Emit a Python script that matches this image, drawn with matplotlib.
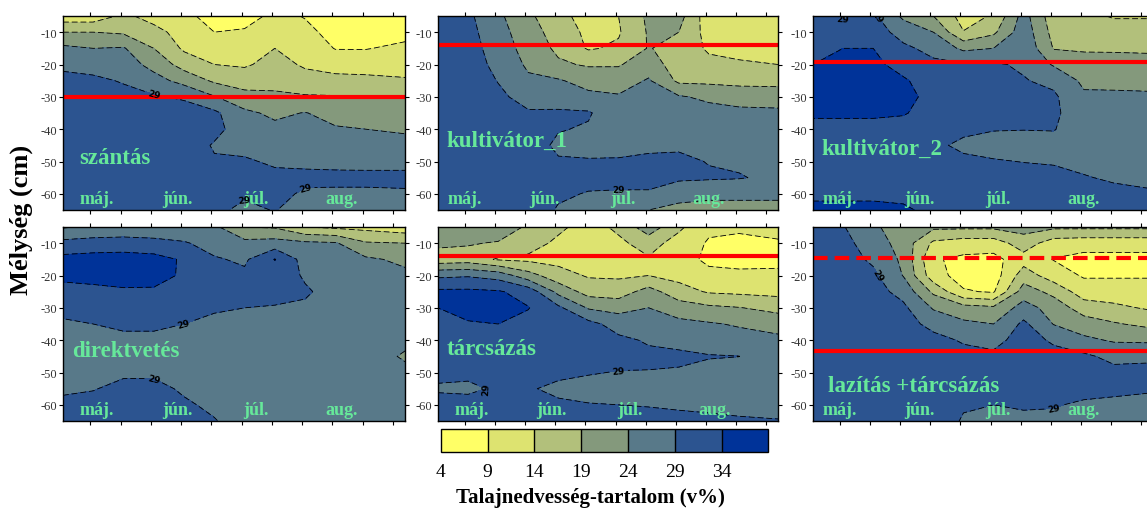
import matplotlib
matplotlib.use("Agg")
import matplotlib.pyplot as plt
import numpy as np

plt.rcParams["font.family"] = ["Liberation Serif", "DejaVu Serif"]
plt.rcParams["axes.unicode_minus"] = False
plt.rcParams["lines.dashed_pattern"] = [7, 3.5]

W, H = 1147, 510

LEVELS = [4, 9, 14, 19, 24, 29, 34, 39]
FILLS = ["#FFFF66", "#DDE370", "#B2C07B", "#84997C", "#587989", "#2C5490", "#003399"]
GREEN = "#66E89A"

# mérési mélységek (cm) és időpontok (napok a szezonban)
depth = [-5, -10, -15, -20, -25, -30, -35, -40, -45, -50, -55, -60, -65]
days = [0, 10, 20, 30, 40, 50, 60, 70, 80, 90, 100, 113]

months = ["máj.", "jún.", "júl.", "aug."]
month_pos_a = [11.3, 37.8, 63.8, 92]
month_pos_b = [9, 35.3, 61.6, 90]

# talajnedvesség (v%), egy lista = egy időpont, felülről lefelé
szantas = [
    [11, 19, 25.1, 27.9, 30.5, 31.5, 32, 32.5, 32.5, 32, 32, 32, 32],
    [11, 19, 24, 27.1, 30, 31, 32, 32.5, 32.5, 32.5, 32, 32, 32],
    [15, 18.3, 24.4, 26.5, 28.6, 30.5, 31.5, 32, 32.5, 32.5, 32, 32, 32],
    [12.2, 15.6, 19, 22.3, 25.9, 29.5, 31, 32, 32, 32, 32, 32, 32],
    [10, 12, 13.2, 17, 22.3, 28.4, 31, 32, 32, 32, 32, 32, 32],
    [7.5, 9, 11.5, 14, 18.2, 24.3, 30, 30.5, 28.5, 29.5, 30.5, 30.5, 30],
    [6.5, 9.7, 11.6, 13.4, 16.7, 20.7, 25, 26.3, 27.8, 29.5, 30.5, 29.6, 28],
    [10.5, 12.5, 14, 15.6, 17.8, 19.7, 23, 25.2, 26.8, 28.4, 30, 30, 29.2],
    [8.7, 10.3, 11.8, 13.4, 15.7, 19.5, 24.2, 25.6, 27, 28.3, 29.8, 28.5, 27],
    [6, 7.3, 8.8, 12, 15.5, 19.3, 22.1, 24.5, 26.2, 27.9, 30, 28.3, 27],
    [6, 7.2, 8.8, 11.6, 15.4, 19.2, 21.6, 24, 25.9, 27.8, 30, 28.3, 27],
    [6, 7.7, 9.9, 12, 14.5, 19.2, 21.3, 23.4, 25.5, 27.8, 30, 28.5, 27],
]

kultivator_1 = [
    [30.5, 31, 31.5, 32, 32, 32, 32, 32, 32, 32, 32, 32, 32],
    [30, 30.5, 31, 31.5, 32, 32, 32, 32, 32, 32, 32, 32, 32],
    [25, 26, 26.8, 27.6, 28.8, 30, 31, 32, 32, 32, 32, 32, 32],
    [20, 21, 22, 23.2, 24.8, 27.2, 29.5, 31, 31.5, 32, 32, 32, 32],
    [15.5, 17, 18, 19.7, 24.5, 27.3, 29.5, 29.3, 28, 29.5, 30.5, 29.8, 28.5],
    [12, 12.8, 13.5, 18.5, 22, 25.3, 29.5, 28.5, 27, 29.5, 30.5, 28.7, 27.5],
    [14, 13.5, 14.8, 18.6, 21.5, 24.5, 25.5, 26.8, 28, 29.3, 30.5, 28.5, 27],
    [20, 19.5, 19.3, 21.5, 24.5, 26, 27.5, 27.8, 28.5, 29.5, 30.5, 28.5, 24],
    [21, 19, 17, 16.5, 18, 24.5, 26, 27, 28.3, 30, 29.8, 26, 22.5],
    [11, 12, 13.3, 15.3, 17.9, 23, 25.8, 26.8, 27.7, 28.8, 29.6, 25, 22.5],
    [11, 11.8, 12.8, 14.5, 17.5, 22, 25.2, 26.2, 27.2, 28.3, 29.3, 25, 22.5],
    [11, 11.5, 12.5, 14, 17.4, 21.7, 25, 26, 27, 27.8, 28, 25, 22.5],
]

kultivator_2 = [
    [30.5, 31.5, 32.5, 34, 35, 35, 34.5, 33, 32.5, 32.5, 33, 33.6, 34.5],
    [28.5, 31, 34, 35, 35.5, 35.5, 34.5, 33, 32.5, 32.5, 33, 33.6, 34.5],
    [30, 31.5, 34, 35, 35.5, 35.5, 34.5, 33, 32.5, 32.5, 33, 33.6, 34.5],
    [23, 27, 30, 32.5, 34.5, 35, 34.3, 32.5, 32, 32, 32.5, 33.5, 34.3],
    [19, 24, 27.5, 30, 32, 33, 32.5, 31.5, 30, 31, 32, 33, 33.5],
    [12, 14.2, 23, 29.5, 31, 31.5, 31, 30, 28, 30, 31.5, 32, 32.5],
    [14.5, 18, 24, 29.6, 30.8, 31, 30.5, 29.2, 27.5, 29.3, 30.5, 31.5, 32],
    [26, 27, 28, 28.3, 29.3, 30.2, 30, 29.1, 27.5, 28.9, 30.5, 31, 31.5],
    [16, 17.3, 18.7, 23.5, 27.8, 29.8, 30, 29.2, 27.5, 28.7, 30, 30.5, 31],
    [15.5, 16.8, 18.5, 20.7, 23, 24.8, 25.8, 26.6, 27.4, 28.2, 29.2, 30.2, 31],
    [13.5, 16.5, 18.5, 20.5, 23, 24.7, 25.6, 26.4, 27.1, 27.8, 28.6, 29.8, 30.8],
    [13.5, 16.5, 18.3, 20.5, 22.8, 24.6, 25.4, 26.1, 26.8, 27.5, 28.3, 29.3, 30],
]

direktvetes = [
    [23.5, 30.5, 35.5, 35, 32.5, 30, 28.5, 27.5, 27, 27, 28.3, 30, 31],
    [25, 31, 36, 35, 33.2, 31, 29, 27.8, 27, 27.5, 28.8, 30.3, 31.2],
    [25, 31.5, 36, 35.5, 33.5, 31.5, 29.8, 28, 27.5, 28.4, 30, 31, 31.5],
    [24.5, 31, 35.5, 35.3, 33.5, 31.5, 29.8, 28, 27.5, 28.4, 30, 31, 31.5],
    [25, 29.5, 33.5, 33.5, 32.5, 31, 29, 28, 27.5, 27.5, 28.5, 29.5, 30],
    [25, 27, 29.5, 31, 31, 29.5, 28, 27.3, 27, 27, 27.5, 28.3, 29.2],
    [19, 25.5, 28.2, 30, 30, 29, 27.8, 27.2, 27, 27, 27, 27.3, 27.5],
    [18.5, 26, 34.2, 31.5, 30.5, 28.7, 27.5, 27, 27, 27, 27, 27.2, 27.5],
    [14, 25, 27, 28.5, 29.5, 28.4, 27.5, 27, 27, 27, 27, 27, 27.5],
    [13, 24.5, 25.5, 26.5, 27.5, 27.5, 27.5, 27, 27, 27, 27, 27, 27],
    [12.5, 19.5, 24.8, 26, 26.8, 27, 27, 26.5, 26, 26.5, 27, 27, 27],
    [11, 19, 23, 25, 26, 26.5, 26.5, 25, 23.5, 25, 26.5, 27, 27],
]

tarcsazas = [
    [21, 20.3, 16, 28, 35, 34, 32, 31, 30.5, 30, 28.5, 30.5, 31],
    [21.5, 19.5, 16.5, 28.5, 35, 36, 33.5, 31.5, 30.5, 29.8, 28.3, 30.3, 31],
    [23, 18.5, 13.5, 27, 34.5, 35.5, 34, 31.5, 30.5, 30, 29.5, 30.5, 31],
    [18, 16, 13, 21, 32, 34.2, 32.5, 31, 30.5, 30, 29.3, 30, 31],
    [15, 13, 12.5, 16, 22.5, 30, 31, 31, 30.5, 29.7, 28.3, 29.5, 30.5],
    [12, 12, 12.5, 13.5, 17, 23.5, 30.5, 30.5, 30, 29.3, 27.5, 29.2, 30.5],
    [15, 13, 12.5, 13.3, 16.5, 22.3, 27, 30, 30.5, 28.8, 27.5, 29, 30.5],
    [22, 16, 13.5, 14, 21, 24, 26.5, 28.5, 30, 28.8, 27.5, 28.8, 30.3],
    [15, 12, 11, 12.5, 16, 21.5, 25.3, 27.5, 30, 28.5, 27.5, 28.5, 30],
    [10, 8.5, 8, 10.3, 13.5, 20, 24.5, 26.5, 29.3, 27.5, 27, 28, 30],
    [10, 7.5, 7.5, 10, 13, 19.2, 23.5, 26, 29.05, 27, 27, 27.8, 29.5],
    [10.5, 8.5, 8, 9.8, 12.5, 17.5, 22, 25.2, 26.5, 27, 27.5, 28.3, 29.1],
]

lazitas = [
    [30.5, 31, 31.5, 32, 32, 32, 32, 32, 32, 32, 32, 32, 32],
    [29.3, 30.5, 31, 31.5, 32, 32, 32, 32, 32, 32, 32, 32, 32],
    [25, 26.5, 28.2, 30, 31, 31.5, 32, 32, 32, 32, 32, 32, 32],
    [21, 22, 23, 23.8, 27.3, 30, 31, 31.5, 32, 32, 32, 32, 32],
    [20, 13, 9.5, 11, 18, 23.5, 27.5, 30.5, 31.5, 32, 32, 32, 32],
    [20, 11.5, 8, 7, 9.5, 21, 25, 28.5, 30.5, 31, 30.5, 29.5, 28.5],
    [20, 11.5, 7.5, 6.5, 8.5, 20, 24, 27.5, 30, 31, 30.5, 29, 28],
    [21, 16.5, 12, 16.5, 21.5, 26, 30, 31, 31.5, 31.5, 31, 29.5, 28],
    [20, 11.5, 8.8, 11.5, 17.5, 22, 23.8, 28.3, 30.5, 31, 30.5, 29.3, 28],
    [20, 11, 7.5, 8.5, 11.5, 16.5, 21.5, 25, 30, 31, 30.3, 28.4, 27.5],
    [20, 11, 7.5, 8.5, 11.5, 15, 19.5, 23.5, 27.5, 30.5, 30, 28, 27],
    [20, 11, 7.5, 8.5, 11.5, 13.3, 17.5, 23.2, 28, 30.5, 29.5, 27.5, 27],
]

# művelési mélységek (cm)
panels = [
    ("szántás", szantas, [(-30, "-")], month_pos_a, (5.3, -50.5), (63, 17, 342)),
    ("kultivátor_1", kultivator_1, [(-14, "-")], month_pos_b, (2.9, -45.1), (438, 17, 340)),
    ("kultivátor_2", kultivator_2, [(-19.3, "-")], month_pos_b, (2.9, -47.7), (813, 17, 340)),
    ("direktvetés", direktvetes, [], month_pos_a, (2.9, -44.8), (63, 228, 342)),
    ("tárcsázás", tarcsazas, [(-14, "-")], month_pos_a, (2.9, -44.3), (438, 228, 340)),
    ("lazítás +tárcsázás", lazitas, [(-14.5, (0, (3.5, 1.7))), (-43.5, "-")],
     month_pos_b, (5, -55.7), (813, 228, 340)),
]

fig = plt.figure(figsize=(W / 100, H / 100), dpi=100)

cf = None
for name, cols, red, mpos, lpos, (px, py, pw) in panels:
    ph = 194
    ax = fig.add_axes([px / W, 1 - (py + ph) / H, pw / W, ph / H])
    Z = np.array(cols).T
    cf = ax.contourf(days, depth, Z, levels=LEVELS, colors=FILLS)
    cs = ax.contour(days, depth, Z, levels=LEVELS[1:-1], colors="black",
                    linewidths=0.6, linestyles="dashed")
    for t in ax.clabel(cs, levels=[29], fmt="%d", fontsize=6.5, inline=True):
        t.set_fontweight("bold")
        t.set_family("DejaVu Sans")
    for d, ls in red:
        ax.axhline(d, color="#FF0000", lw=3, linestyle=ls)
    ax.set_xlim(0, 113)
    ax.set_ylim(-65, -5)
    ax.set_xticks(range(9, 113, 10))
    ax.set_yticks([-10, -20, -30, -40, -50, -60])
    ax.tick_params(axis="x", top=True, bottom=True, labelbottom=False,
                   direction="out", length=3, width=0.8)
    ax.tick_params(axis="y", left=True, right=True, direction="out", length=3,
                   width=0.8, labelsize=9, labelcolor="#333333", pad=1.5)
    for s in ax.spines.values():
        s.set_linewidth(1)
    ax.text(lpos[0], lpos[1], name, color=GREEN, fontsize=16.5, fontweight="bold",
            ha="left", va="baseline")
    for m, mx in zip(months, mpos):
        ax.text(mx, -62.8, m, color=GREEN, fontsize=13, fontweight="bold",
                ha="center", va="baseline")

fig.text(21.7 / W, 1 - 220 / H, "Mélység (cm)", rotation=90, fontsize=19,
         fontweight="bold", ha="center", va="center")

cax = fig.add_axes([440.7 / W, 1 - 453 / H, 327.6 / W, 23 / H])
cb = fig.colorbar(cf, cax=cax, orientation="horizontal", ticks=LEVELS[:-1], drawedges=True)
cb.outline.set_linewidth(1)
cb.dividers.set_color("black")
cb.dividers.set_linewidth(1)
cax.tick_params(length=0, labelsize=14, pad=8)
fig.text(590 / W, 1 - 503 / H, "Talajnedvesség-tartalom (v%)", fontsize=15,
         fontweight="bold", ha="center", va="baseline")

fig.savefig("out.png", dpi=100)
